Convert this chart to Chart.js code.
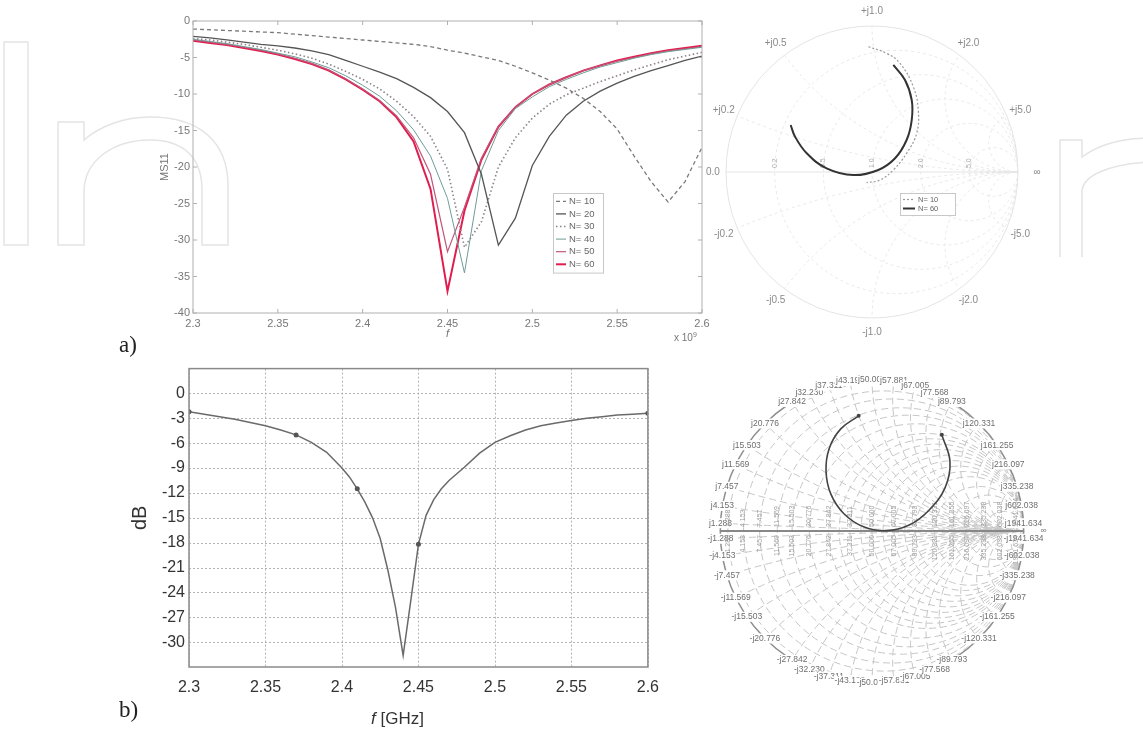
<!DOCTYPE html>
<html>
<head>
<meta charset="utf-8">
<script src="https://cdn.jsdelivr.net/npm/chart.js@4.4.0/dist/chart.umd.min.js"></script>
<style>
  body { margin: 0; background: #fff; width: 1143px; height: 734px; position: relative; overflow: hidden; font-family: 'Liberation Sans', Arial, sans-serif; }
  canvas, .txt, svg { position: absolute; }
  .panel { font-family: 'Liberation Serif', 'DejaVu Serif', serif; font-size: 23px; color: #222; }
</style>
</head>
<body>
<svg width="1143" height="300" style="left:0;top:0" fill="none" stroke="#e4e4e4" stroke-width="1.5">
  <rect x="4" y="42" width="24" height="203"/>
  <path d="M58 245 V122 H84 V140 C100 126 124 117 150 117 C200 117 228 142 228 186 V245 H202 V190 C202 158 184 140 150 140 C114 140 84 160 84 192 V245 Z"/>
  <path d="M1060 257 V140 H1082 V157 C1098 145 1120 138 1150 138"/>
  <path d="M1082 257 V192 C1082 176 1108 164 1150 162"/>
</svg>

<canvas id="chartA" width="575" height="346" style="left:140px;top:4px"></canvas>
<canvas id="smithA" width="344" height="344" style="left:700px;top:0px"></canvas>
<canvas id="chartB" width="575" height="378" style="left:95px;top:355px"></canvas>
<canvas id="smithB" width="380" height="380" style="left:682px;top:341px"></canvas>

<div class="txt" style="left:674px;top:331px;font-size:10px;color:#777">x 10<sup style="font-size:7px">9</sup></div>
<div class="txt" style="left:371px;top:709px;font-size:17px;color:#333"><i>f</i> [GHz]</div>
<div class="txt panel" style="left:119px;top:332px">a)</div>
<div class="txt panel" style="left:119px;top:697px">b)</div>

<script>
// ---- panel a) : MS11 vs f for several N ----
const freqA = [2.30, 2.31, 2.32, 2.33, 2.34, 2.35, 2.36, 2.37, 2.38, 2.39, 2.40,
               2.41, 2.42, 2.43, 2.44, 2.45, 2.46, 2.47, 2.48, 2.49, 2.50,
               2.51, 2.52, 2.53, 2.54, 2.55, 2.56, 2.57, 2.58, 2.59, 2.60];
const n10 = [-1.1, -1.2, -1.3, -1.4, -1.5, -1.6, -1.8, -2.0, -2.2, -2.4, -2.6,
             -2.8, -3.0, -3.2, -3.5, -4.0, -4.4, -4.9, -5.4, -6.2, -7.1,
             -8.1, -9.2, -10.6, -12.4, -14.8, -18.5, -22.0, -24.8, -22.0, -17.3];
const n20 = [-2.1, -2.3, -2.6, -2.9, -3.2, -3.4, -3.7, -4.1, -4.6, -5.4, -6.2,
             -7.0, -7.9, -9.1, -10.5, -12.4, -15.3, -21.0, -30.7, -27.0, -19.8,
             -15.8, -12.9, -11.0, -9.6, -8.5, -7.6, -6.8, -6.1, -5.4, -4.8];
const n30 = [-2.4, -2.6, -2.9, -3.2, -3.6, -4.0, -4.5, -5.1, -5.9, -6.9, -8.0,
             -9.3, -11.0, -13.1, -15.8, -20.3, -31.0, -27.5, -20.0, -16.0, -13.3,
             -11.4, -10.1, -9.2, -8.3, -7.5, -6.7, -6.0, -5.3, -4.8, -4.3];
const n40 = [-2.5, -2.8, -3.1, -3.5, -3.9, -4.4, -4.9, -5.6, -6.4, -7.5, -8.8,
             -10.3, -12.3, -14.9, -18.5, -24.3, -34.5, -20.5, -15.0, -12.0, -10.4,
             -9.0, -8.0, -7.1, -6.3, -5.7, -5.1, -4.6, -4.2, -3.9, -3.6];
const n50 = [-2.6, -2.9, -3.2, -3.6, -4.0, -4.5, -5.1, -5.8, -6.7, -7.9, -9.3,
             -10.9, -13.0, -16.0, -21.0, -31.6, -25.5, -18.8, -14.4, -11.8, -10.0,
             -8.7, -7.7, -6.8, -6.1, -5.5, -5.0, -4.5, -4.1, -3.8, -3.5];
const n60 = [-2.7, -3.0, -3.3, -3.7, -4.1, -4.6, -5.2, -5.9, -6.8, -8.0, -9.4,
             -11.0, -13.2, -16.5, -23.0, -37.0, -26.0, -19.0, -14.5, -11.8, -10.0,
             -8.7, -7.7, -6.8, -6.1, -5.4, -4.9, -4.4, -4.0, -3.7, -3.4];
const legendA = ['N= 10', 'N= 20', 'N= 30', 'N= 40', 'N= 50', 'N= 60'];
const xTicksA = [2.3, 2.35, 2.4, 2.45, 2.5, 2.55, 2.6];
const xTickLabelsA = ['2.3', '2.35', '2.4', '2.45', '2.5', '2.55', '2.6'];
const yTicksA = [0, -5, -10, -15, -20, -25, -30, -35, -40];

// ---- panel b) : measured dB vs f ----
const freqB = [2.30, 2.31, 2.32, 2.33, 2.34, 2.35, 2.36, 2.37, 2.38, 2.39, 2.40,
               2.405, 2.41, 2.415, 2.42, 2.425, 2.43, 2.435, 2.44, 2.445, 2.45,
               2.455, 2.46, 2.465, 2.47, 2.48, 2.49, 2.50,
               2.51, 2.52, 2.53, 2.54, 2.55, 2.56, 2.57, 2.58, 2.59, 2.60];
const dbB = [-2.2, -2.5, -2.8, -3.1, -3.5, -3.9, -4.4, -5.0, -5.9, -7.1, -9.0,
             -10.1, -11.5, -13.1, -15.0, -17.5, -21.3, -25.8, -31.6, -25.0, -18.2,
             -14.7, -12.8, -11.5, -10.5, -8.9, -7.2, -5.9,
             -5.1, -4.4, -3.9, -3.55, -3.25, -3.0, -2.8, -2.6, -2.5, -2.4];
const markerFreqB = [2.30, 2.37, 2.41, 2.45, 2.60];
const xTicksB = [2.3, 2.35, 2.4, 2.45, 2.5, 2.55, 2.6];
const xTickLabelsB = ['2.3', '2.35', '2.4', '2.45', '2.5', '2.55', '2.6'];
const yTicksB = [0, -3, -6, -9, -12, -15, -18, -21, -24, -27, -30];

// ---- Smith charts (reflection coefficient, re / im) ----
const smithA10Re = [-0.025, 0.100, 0.192, 0.283, 0.317, 0.306, 0.237, 0.146, 0.055, -0.037];
const smithA10Im = [0.858, 0.813, 0.744, 0.584, 0.425, 0.265, 0.128, 0.014, -0.055, -0.073];
const smithA60Re = [0.146, 0.226, 0.272, 0.272, 0.237, 0.158, 0.043, -0.128, -0.311, -0.447, -0.527, -0.557];
const smithA60Im = [0.733, 0.630, 0.493, 0.356, 0.219, 0.094, 0.014, -0.021, 0.025, 0.128, 0.242, 0.322];
const smithALegend = ['N= 10', 'N= 60'];
const smithAValues = [0.2, 0.5, 1.0, 2.0, 5.0];

const smithBRe = [-0.088, -0.206, -0.282, -0.303, -0.271, -0.185, -0.056, 0.095, 0.245, 0.374, 0.482, 0.514, 0.460];
const smithBIm = [0.759, 0.673, 0.544, 0.394, 0.243, 0.114, 0.028, 0.002, 0.039, 0.135, 0.286, 0.458, 0.634];
const smithBOhms = [1.288, 4.153, 7.457, 11.569, 15.503, 20.776, 27.842, 32.230, 37.311, 43.192, 50.000,
                    57.881, 67.005, 77.568, 89.793, 120.331, 161.255, 216.097, 335.238, 602.038, 1941.634];

const toXY = (xs, ys) => xs.map((v, i) => ({ x: v, y: ys[i] }));

// frame round the plot area, optional inward tick marks (matlab look)
function makeFrame(color, width, tick) {
    return {
        id: 'frame',
        afterDatasetsDraw(chart) {
            const { ctx, chartArea: a, scales: { x, y } } = chart;
            ctx.save();
            ctx.strokeStyle = color;
            ctx.lineWidth = width;
            ctx.strokeRect(a.left, a.top, a.right - a.left, a.bottom - a.top);
            if (tick) {
                ctx.beginPath();
                x.ticks.forEach(t => {
                    const p = x.getPixelForValue(t.value);
                    ctx.moveTo(p, a.bottom); ctx.lineTo(p, a.bottom - tick);
                    ctx.moveTo(p, a.top); ctx.lineTo(p, a.top + tick);
                });
                y.ticks.forEach(t => {
                    const p = y.getPixelForValue(t.value);
                    ctx.moveTo(a.left, p); ctx.lineTo(a.left + tick, p);
                    ctx.moveTo(a.right, p); ctx.lineTo(a.right - tick, p);
                });
                ctx.stroke();
            }
            ctx.restore();
        }
    };
}

// dotted grid at the tick values
function makeDottedGrid(color, dash) {
    return {
        id: 'dottedGrid',
        beforeDatasetsDraw(chart) {
            const { ctx, chartArea: a, scales: { x, y } } = chart;
            ctx.save();
            ctx.strokeStyle = color;
            ctx.lineWidth = 1;
            ctx.setLineDash(dash);
            ctx.beginPath();
            x.ticks.forEach(t => {
                const p = Math.round(x.getPixelForValue(t.value)) + 0.5;
                ctx.moveTo(p, a.top); ctx.lineTo(p, a.bottom);
            });
            y.ticks.forEach(t => {
                const p = Math.round(y.getPixelForValue(t.value)) + 0.5;
                ctx.moveTo(a.left, p); ctx.lineTo(a.right, p);
            });
            ctx.stroke();
            ctx.restore();
        }
    };
}

// small boxed legend inside the plot
function makeBoxLegend(box) {
    return {
        id: 'boxLegend',
        afterDatasetsDraw(chart) {
            const ctx = chart.ctx;
            const sets = chart.data.datasets;
            const h = box.rowH * sets.length + 4;
            ctx.save();
            ctx.fillStyle = '#fff';
            ctx.fillRect(box.x, box.y, box.w, h);
            ctx.strokeStyle = box.border;
            ctx.lineWidth = 1;
            ctx.strokeRect(box.x + 0.5, box.y + 0.5, box.w, h);
            ctx.font = box.font;
            ctx.textBaseline = 'middle';
            sets.forEach((ds, i) => {
                const cy = box.y + 2 + box.rowH * (i + 0.5);
                ctx.strokeStyle = ds.borderColor;
                ctx.lineWidth = ds.borderWidth;
                ctx.setLineDash(ds.borderDash || []);
                ctx.beginPath();
                ctx.moveTo(box.x + 3, cy);
                ctx.lineTo(box.x + 3 + box.line, cy);
                ctx.stroke();
                ctx.setLineDash([]);
                ctx.fillStyle = box.color;
                ctx.fillText(ds.label, box.x + 6 + box.line, cy);
            });
            ctx.restore();
        }
    };
}

// Smith chart grid drawn through the chart's own x / y scales
function makeSmithGrid(cfg) {
    return {
        id: 'smithGrid',
        beforeDatasetsDraw(chart) {
            const { ctx, scales: { x, y } } = chart;
            const cx = x.getPixelForValue(0);
            const cy = y.getPixelForValue(0);
            const R = x.getPixelForValue(1) - cx;

            ctx.save();
            ctx.beginPath();
            ctx.arc(cx, cy, R, 0, Math.PI * 2);
            ctx.clip();
            ctx.strokeStyle = cfg.gridColor;
            ctx.lineWidth = 1;
            ctx.setLineDash(cfg.dash);
            cfg.values.forEach(v => {
                const r = v / cfg.z0;
                ctx.beginPath();
                ctx.arc(x.getPixelForValue(r / (1 + r)), cy, R / (1 + r), 0, Math.PI * 2);
                ctx.stroke();
                [r, -r].forEach(s => {
                    ctx.beginPath();
                    ctx.arc(x.getPixelForValue(1), y.getPixelForValue(1 / s), R / r, 0, Math.PI * 2);
                    ctx.stroke();
                });
            });
            ctx.restore();

            ctx.save();
            ctx.strokeStyle = cfg.outerColor;
            ctx.lineWidth = cfg.outerWidth;
            ctx.beginPath();
            ctx.arc(cx, cy, R, 0, Math.PI * 2);
            ctx.stroke();
            ctx.strokeStyle = cfg.axisColor;
            ctx.lineWidth = cfg.axisWidth;
            ctx.beginPath();
            ctx.moveTo(cx - R, cy);
            ctx.lineTo(cx + R, cy);
            ctx.stroke();

            // reactance labels round the rim
            ctx.font = cfg.font;
            ctx.textAlign = 'center';
            ctx.textBaseline = 'middle';
            cfg.values.forEach(v => {
                const n = v / cfg.z0;
                const th = Math.atan2(2 * n, n * n - 1);
                [1, -1].forEach(sg => {
                    const lx = cx + cfg.labelR * R * Math.cos(th);
                    const ly = cy - sg * cfg.labelR * R * Math.sin(th);
                    const txt = (sg > 0 ? cfg.up : cfg.down) + v.toFixed(cfg.digits);
                    if (cfg.labelBg) {
                        const w = ctx.measureText(txt).width;
                        ctx.fillStyle = '#fff';
                        ctx.fillRect(lx - w / 2 - 1, ly - 5, w + 2, 10);
                    }
                    ctx.fillStyle = cfg.labelColor;
                    ctx.fillText(txt, lx, ly);
                });
            });
            ctx.fillStyle = cfg.labelColor;
            if (cfg.left) ctx.fillText(cfg.left, cx - R * 1.09, cy);
            ctx.fillText('∞', cx + R * 1.13, cy);

            // resistance labels along the real axis, rotated
            ctx.font = cfg.resFont;
            ctx.fillStyle = cfg.resColor;
            let last = -1e9;
            cfg.values.forEach(v => {
                const r = v / cfg.z0;
                const p = x.getPixelForValue((r - 1) / (r + 1));
                if (p - last < cfg.minGap) return;
                last = p;
                const txt = v.toFixed(cfg.digits);
                ctx.save();
                ctx.translate(p, cy - 4);
                ctx.rotate(-Math.PI / 2);
                ctx.textAlign = 'left';
                ctx.fillText(txt, 0, 0);
                ctx.restore();
                if (cfg.resBelow) {
                    ctx.save();
                    ctx.translate(p, cy + 4);
                    ctx.rotate(-Math.PI / 2);
                    ctx.textAlign = 'right';
                    ctx.fillText(txt, 0, 0);
                    ctx.restore();
                }
            });
            ctx.restore();
        }
    };
}

const fontA = { family: "'Liberation Sans', Arial, sans-serif", size: 11 };

new Chart(document.getElementById('chartA'), {
    type: 'scatter',
    data: {
        datasets: [
            { label: legendA[0], data: toXY(freqA, n10), borderColor: '#7a7a7a', borderDash: [4, 3], borderWidth: 1.3 },
            { label: legendA[1], data: toXY(freqA, n20), borderColor: '#555', borderWidth: 1.3 },
            { label: legendA[2], data: toXY(freqA, n30), borderColor: '#8c8088', borderDash: [1.5, 2.5], borderWidth: 1.6 },
            { label: legendA[3], data: toXY(freqA, n40), borderColor: '#6e9c97', borderWidth: 1 },
            { label: legendA[4], data: toXY(freqA, n50), borderColor: '#c2557a', borderWidth: 1.2 },
            { label: legendA[5], data: toXY(freqA, n60), borderColor: '#e01e4e', borderWidth: 2 }
        ].map(ds => Object.assign(ds, { showLine: true, pointRadius: 0, fill: false }))
    },
    options: {
        responsive: false,
        animation: false,
        layout: { padding: { top: 17, right: 13, left: 0, bottom: 0 } },
        plugins: { legend: { display: false }, tooltip: { enabled: false } },
        scales: {
            x: {
                type: 'linear', min: 2.3, max: 2.6,
                afterBuildTicks: s => { s.ticks = xTicksA.map(v => ({ value: v })); },
                afterFit: s => { s.height = 37; },
                grid: { display: false, drawTicks: false },
                border: { display: false },
                ticks: { padding: 4, autoSkip: false, maxRotation: 0, color: '#777', font: fontA,
                         callback: (v, i) => xTickLabelsA[i] },
                title: { display: true, text: 'f', color: '#777', font: { size: 11, style: 'italic' },
                         padding: { top: 0, bottom: 9 } }
            },
            y: {
                type: 'linear', min: -40, max: 0,
                afterBuildTicks: s => { s.ticks = yTicksA.map(v => ({ value: v })); },
                afterFit: s => { s.width = 53; },
                grid: { display: false, drawTicks: false },
                border: { display: false },
                ticks: { padding: 3, color: '#777', font: fontA, callback: v => String(v) },
                title: { display: true, text: 'MS11', color: '#777', font: { size: 11 },
                         padding: { top: 18, bottom: 0 } }
            }
        }
    },
    plugins: [
        makeFrame('#b0b0b0', 1, 4),
        makeBoxLegend({ x: 413, y: 189, w: 50, rowH: 12.6, line: 10, font: "9.5px 'Liberation Sans'", color: '#666', border: '#c8c8c8' })
    ]
});

new Chart(document.getElementById('smithA'), {
    type: 'scatter',
    data: {
        datasets: [
            { label: smithALegend[0], data: toXY(smithA10Re, smithA10Im), borderColor: '#999', borderDash: [2, 2], borderWidth: 1.2 },
            { label: smithALegend[1], data: toXY(smithA60Re, smithA60Im), borderColor: '#333', borderWidth: 2 }
        ].map(ds => Object.assign(ds, { showLine: true, pointRadius: 0, tension: 0.4, fill: false }))
    },
    options: {
        responsive: false,
        animation: false,
        layout: { padding: 0 },
        plugins: { legend: { display: false }, tooltip: { enabled: false } },
        scales: {
            x: { type: 'linear', display: false, min: -1.178, max: 1.178 },
            y: { type: 'linear', display: false, min: -1.178, max: 1.178 }
        }
    },
    plugins: [
        makeSmithGrid({ values: smithAValues, z0: 1, gridColor: '#e8e8e8', dash: [3, 3], outerColor: '#e4e4e4', outerWidth: 1,
                        axisColor: '#e4e4e4', axisWidth: 1, font: "10px 'Liberation Sans'", labelColor: '#8a8a8a',
                        labelR: 1.1, up: '+j', down: '-j', digits: 1, labelBg: false, left: '0.0',
                        resFont: "7px 'Liberation Sans'", resColor: '#aaa', resBelow: false, minGap: 6 }),
        makeBoxLegend({ x: 200, y: 193, w: 55, rowH: 9, line: 12, font: "7.5px 'Liberation Sans'", color: '#666', border: '#c8c8c8' })
    ]
});

new Chart(document.getElementById('chartB'), {
    type: 'scatter',
    data: {
        datasets: [{
            label: 'dB',
            data: toXY(freqB, dbB),
            showLine: true,
            borderColor: '#6a6a6a',
            borderWidth: 1.5,
            pointRadius: freqB.map(f => markerFreqB.includes(f) ? 2.5 : 0),
            pointBackgroundColor: '#555',
            pointBorderWidth: 0,
            fill: false
        }]
    },
    options: {
        responsive: false,
        animation: false,
        layout: { padding: { top: 11, right: 15, left: 0, bottom: 0 } },
        plugins: { legend: { display: false }, tooltip: { enabled: false } },
        scales: {
            x: {
                type: 'linear', min: 2.3, max: 2.6,
                afterBuildTicks: s => { s.ticks = xTicksB.map(v => ({ value: v })); },
                afterFit: s => { s.height = 66; },
                grid: { display: false, drawTicks: false },
                border: { display: false },
                ticks: { padding: 11, autoSkip: false, maxRotation: 0, color: '#333',
                         font: { family: "'Liberation Sans', Arial, sans-serif", size: 16 },
                         callback: (v, i) => xTickLabelsB[i] }
            },
            y: {
                type: 'linear', min: -33, max: 3,
                afterBuildTicks: s => { s.ticks = yTicksB.map(v => ({ value: v })); },
                afterFit: s => { s.width = 94; },
                grid: { display: false, drawTicks: false },
                border: { display: false },
                ticks: { padding: 4, color: '#333',
                         font: { family: "'Liberation Sans', Arial, sans-serif", size: 16 },
                         callback: v => String(v) },
                title: { display: true, text: 'dB', color: '#333',
                         font: { family: "'Liberation Sans', Arial, sans-serif", size: 20 },
                         padding: { top: 33, bottom: 0 } }
            }
        }
    },
    plugins: [
        makeDottedGrid('#b4b4b4', [2, 2]),
        makeFrame('#8a8a8a', 1.5, 0)
    ]
});

new Chart(document.getElementById('smithB'), {
    type: 'scatter',
    data: {
        datasets: [{
            label: 'S11',
            data: toXY(smithBRe, smithBIm),
            showLine: true,
            tension: 0.4,
            borderColor: '#444',
            borderWidth: 1.6,
            pointRadius: smithBRe.map((v, i) => (i === 0 || i === smithBRe.length - 1) ? 2 : 0),
            pointBackgroundColor: '#444',
            pointBorderWidth: 0,
            fill: false
        }]
    },
    options: {
        responsive: false,
        animation: false,
        layout: { padding: 0 },
        plugins: { legend: { display: false }, tooltip: { enabled: false } },
        scales: {
            x: { type: 'linear', display: false, min: -1.226, max: 1.226 },
            y: { type: 'linear', display: false, min: -1.226, max: 1.226 }
        }
    },
    plugins: [
        makeSmithGrid({ values: smithBOhms, z0: 50, gridColor: '#c6c6c6', dash: [7, 4], outerColor: '#8e8e8e', outerWidth: 1.5,
                        axisColor: '#888', axisWidth: 2, font: "8.5px 'Liberation Sans'", labelColor: '#6e6e6e',
                        labelR: 1.0, up: 'j', down: '-j', digits: 3, labelBg: true, left: '',
                        resFont: "7px 'Liberation Sans'", resColor: '#a0a0a0', resBelow: true, minGap: 14 })
    ]
});
</script>
</body>
</html>
